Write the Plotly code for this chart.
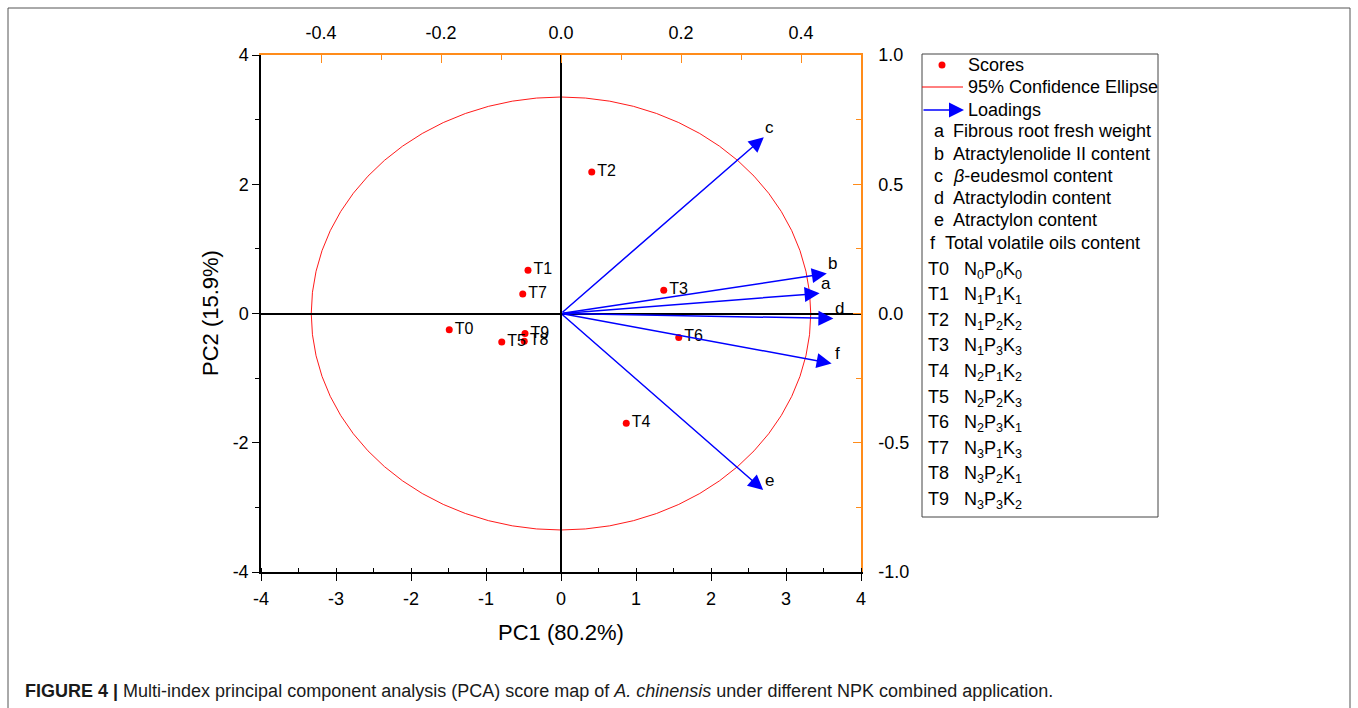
import plotly.graph_objects as go

W, H = 1358, 708
PL, PR, PT, PB = 261, 861, 55, 572  # plot area in px

# ---------------- data ----------------
score_labels = ["T0", "T1", "T2", "T3", "T4", "T5", "T6", "T7", "T8", "T9"]
score_pc1 = [-1.49, -0.44, 0.41, 1.37, 0.87, -0.79, 1.57, -0.51, -0.49, -0.48]
score_pc2 = [-0.25, 0.67, 2.19, 0.36, -1.70, -0.44, -0.37, 0.30, -0.43, -0.31]

loading_labels = ["a", "b", "c", "d", "e", "f"]
loading_pc1 = [0.431, 0.443, 0.338, 0.454, 0.337, 0.451]
loading_pc2 = [0.078, 0.155, 0.682, -0.019, -0.683, -0.193]

ellipse_center = [0.0, 0.0]
ellipse_radius = [3.33, 3.35]

pc1_ticks = [-4, -3, -2, -1, 0, 1, 2, 3, 4]
pc1_ticktext = ["-4", "-3", "-2", "-1", "0", "1", "2", "3", "4"]
pc2_ticks = [-4, -2, 0, 2, 4]
pc2_ticktext = ["-4", "-2", "0", "2", "4"]
load1_ticks = [-0.4, -0.2, 0.0, 0.2, 0.4]
load1_ticktext = ["-0.4", "-0.2", "0.0", "0.2", "0.4"]
load2_ticks = [-1.0, -0.5, 0.0, 0.5, 1.0]
load2_ticktext = ["-1.0", "-0.5", "0.0", "0.5", "1.0"]

loading_names = [
    "Fibrous root fresh weight",
    "Atractylenolide II content",
    "<i>β</i>-eudesmol content",
    "Atractylodin content",
    "Atractylon content",
    "Total volatile oils content",
]
treatment_codes = [
    "N<sub>0</sub>P<sub>0</sub>K<sub>0</sub>",
    "N<sub>1</sub>P<sub>1</sub>K<sub>1</sub>",
    "N<sub>1</sub>P<sub>2</sub>K<sub>2</sub>",
    "N<sub>1</sub>P<sub>3</sub>K<sub>3</sub>",
    "N<sub>2</sub>P<sub>1</sub>K<sub>2</sub>",
    "N<sub>2</sub>P<sub>2</sub>K<sub>3</sub>",
    "N<sub>2</sub>P<sub>3</sub>K<sub>1</sub>",
    "N<sub>3</sub>P<sub>1</sub>K<sub>3</sub>",
    "N<sub>3</sub>P<sub>2</sub>K<sub>1</sub>",
    "N<sub>3</sub>P<sub>3</sub>K<sub>2</sub>",
]

FONT = "Liberation Sans, Arial, sans-serif"
ORANGE = "#ff8c1a"
BLUE = "#0000ff"


def px(x):
    return (x - PL) / (PR - PL)


def py(y):
    return (PB - y) / (PB - PT)


fig = go.Figure()

# scores
fig.add_trace(go.Scatter(
    x=score_pc1, y=score_pc2, mode="markers+text",
    text=score_labels, textposition="middle right",
    textfont=dict(family=FONT, size=16, color="black"),
    marker=dict(color="red", size=7),
    showlegend=False, cliponaxis=False,
))

# invisible trace to activate the loading axes
fig.add_trace(go.Scatter(
    x=[0] + loading_pc1, y=[0] + loading_pc2, xaxis="x2", yaxis="y2",
    mode="markers", marker=dict(size=1, opacity=0), hoverinfo="skip",
    showlegend=False,
))

annotations = []
# loadings (arrows drawn in loading-axis coordinates)
for lab, lx, ly in zip(loading_labels, loading_pc1, loading_pc2):
    annotations.append(dict(
        x=lx, y=ly, xref="x2", yref="y2", ax=0, ay=0, axref="x2", ayref="y2",
        text="", showarrow=True, arrowhead=2, arrowsize=2.0, arrowwidth=1.5,
        arrowcolor=BLUE, standoff=0,
    ))
    annotations.append(dict(
        x=lx, y=ly, xref="x2", yref="y2", text=lab, showarrow=False,
        xanchor="center", yanchor="middle",
        xshift=6, yshift=10, font=dict(family=FONT, size=17, color="black"),
    ))

shapes = []
# confidence ellipse
shapes.append(dict(
    type="circle", xref="x", yref="y",
    x0=ellipse_center[0] - ellipse_radius[0], x1=ellipse_center[0] + ellipse_radius[0],
    y0=ellipse_center[1] - ellipse_radius[1], y1=ellipse_center[1] + ellipse_radius[1],
    line=dict(color="red", width=0.9), layer="below",
))

# figure border
shapes.append(dict(type="rect", xref="paper", yref="paper",
                   x0=px(8), x1=px(1350), y0=py(712), y1=py(8),
                   line=dict(color="#555555", width=1)))

# legend box
shapes.append(dict(type="rect", xref="paper", yref="paper",
                   x0=px(922), x1=px(1158), y0=py(517), y1=py(54),
                   line=dict(color="#444444", width=1), fillcolor="white"))
# legend: scores symbol
shapes.append(dict(type="circle", xref="paper", yref="paper",
                   xsizemode="pixel", ysizemode="pixel",
                   xanchor=px(942), yanchor=py(65),
                   x0=-3.5, x1=3.5, y0=-3.5, y1=3.5,
                   fillcolor="red", line=dict(color="red", width=0)))
# legend: ellipse line
shapes.append(dict(type="line", xref="paper", yref="paper",
                   x0=px(922), x1=px(963), y0=py(87), y1=py(87),
                   line=dict(color="red", width=1)))
# legend: loading arrow
annotations.append(dict(x=px(964), y=py(110), xref="paper", yref="paper",
                        ax=-42, ay=0, text="", showarrow=True, arrowhead=2,
                        arrowsize=2.0, arrowwidth=1.5, arrowcolor=BLUE, standoff=0))

LF = dict(family=FONT, size=18, color="black")
annotations.append(dict(x=px(966), y=py(65), xref="paper", yref="paper", text="Scores",
                        showarrow=False, xanchor="left", yanchor="middle", font=LF))
annotations.append(dict(x=px(966), y=py(87), xref="paper", yref="paper",
                        text="95% Confidence Ellipse",
                        showarrow=False, xanchor="left", yanchor="middle", font=LF))
annotations.append(dict(x=px(966), y=py(110), xref="paper", yref="paper", text="Loadings",
                        showarrow=False, xanchor="left", yanchor="middle", font=LF))

row_y = [131, 154, 176, 198, 220, 243]
for i, (lab, name) in enumerate(zip(loading_labels, loading_names)):
    xl = 928 if lab == "f" else 932
    xt = 943 if lab == "f" else 951
    annotations.append(dict(x=px(xl), y=py(row_y[i]), xref="paper", yref="paper", text=lab,
                            showarrow=False, xanchor="left", yanchor="middle", font=LF))
    annotations.append(dict(x=px(xt), y=py(row_y[i]), xref="paper", yref="paper", text=name,
                            showarrow=False, xanchor="left", yanchor="middle", font=LF))

for i, (lab, code) in enumerate(zip(score_labels, treatment_codes)):
    yy = 267 + 25.6 * i
    annotations.append(dict(x=px(926), y=py(yy + 3), xref="paper", yref="paper",
                            text=lab + "&nbsp;&nbsp;&nbsp;" + code,
                            showarrow=False, xanchor="left", yanchor="middle", font=LF))

# axis titles
annotations.append(dict(x=px(561), y=py(632), xref="paper", yref="paper", text="PC1 (80.2%)",
                        xanchor="center", yanchor="middle",
                        showarrow=False, font=dict(family=FONT, size=22, color="black")))
annotations.append(dict(x=px(210), y=py(313), xref="paper", yref="paper", text="PC2 (15.9%)",
                        xanchor="center", yanchor="middle",
                        textangle=-90, showarrow=False,
                        font=dict(family=FONT, size=22, color="black")))

# caption
annotations.append(dict(
    x=px(23), y=py(691), xref="paper", yref="paper", xanchor="left", yanchor="middle",
    text="<b>FIGURE 4 |</b> Multi-index principal component analysis (PCA) score map of "
         "<i>A. chinensis</i> under different NPK combined application.",
    showarrow=False, font=dict(family=FONT, size=18, color="#1a1a1a"),
))

TF = dict(family=FONT, size=18, color="black")
fig.update_layout(
    width=W, height=H,
    margin=dict(l=PL, r=W - PR, t=PT, b=H - PB, pad=0),
    paper_bgcolor="white", plot_bgcolor="white",
    showlegend=False,
    xaxis=dict(range=[-4, 4], tickvals=pc1_ticks, ticktext=pc1_ticktext,
               ticks="outside", ticklen=7, ticklabelstandoff=3,
               tickwidth=1, tickcolor="black", showline=True, linecolor="black",
               linewidth=1.5, showgrid=False, zeroline=True, zerolinecolor="black",
               zerolinewidth=1.5, tickfont=TF,
               minor=dict(dtick=0.5, ticks="inside", ticklen=4, tickcolor="black")),
    yaxis=dict(range=[-4, 4], tickvals=pc2_ticks, ticktext=pc2_ticktext,
               ticks="outside", ticklen=7,
               tickwidth=1, tickcolor="black", showline=True, linecolor="black",
               linewidth=1.5, showgrid=False, zeroline=True, zerolinecolor="black",
               zerolinewidth=1.5, tickfont=TF,
               minor=dict(dtick=1, ticks="outside", ticklen=4, tickcolor="black")),
    xaxis2=dict(range=[-0.5, 0.5], overlaying="x", side="top", anchor="y",
                tickvals=load1_ticks, ticktext=load1_ticktext,
                ticks="inside", ticklen=8,
                tickcolor=ORANGE, showline=True, linecolor=ORANGE, linewidth=1.5,
                showgrid=False, zeroline=False, tickfont=TF, ticklabelstandoff=7,
                minor=dict(tickvals=[-0.5, -0.3, -0.1, 0.1, 0.3, 0.5], ticks="inside",
                           ticklen=5, tickcolor=ORANGE)),
    yaxis2=dict(range=[-1, 1], overlaying="y", side="right", anchor="x",
                tickvals=load2_ticks, ticktext=load2_ticktext,
                ticks="inside", ticklen=8,
                tickcolor=ORANGE, showline=True, linecolor=ORANGE, linewidth=1.5,
                showgrid=False, zeroline=False, tickfont=TF, ticklabelstandoff=12,
                minor=dict(tickvals=[-0.75, -0.25, 0.25, 0.75], ticks="inside",
                           ticklen=5, tickcolor=ORANGE)),
    shapes=shapes, annotations=annotations,
)

fig.write_html("out.html")
